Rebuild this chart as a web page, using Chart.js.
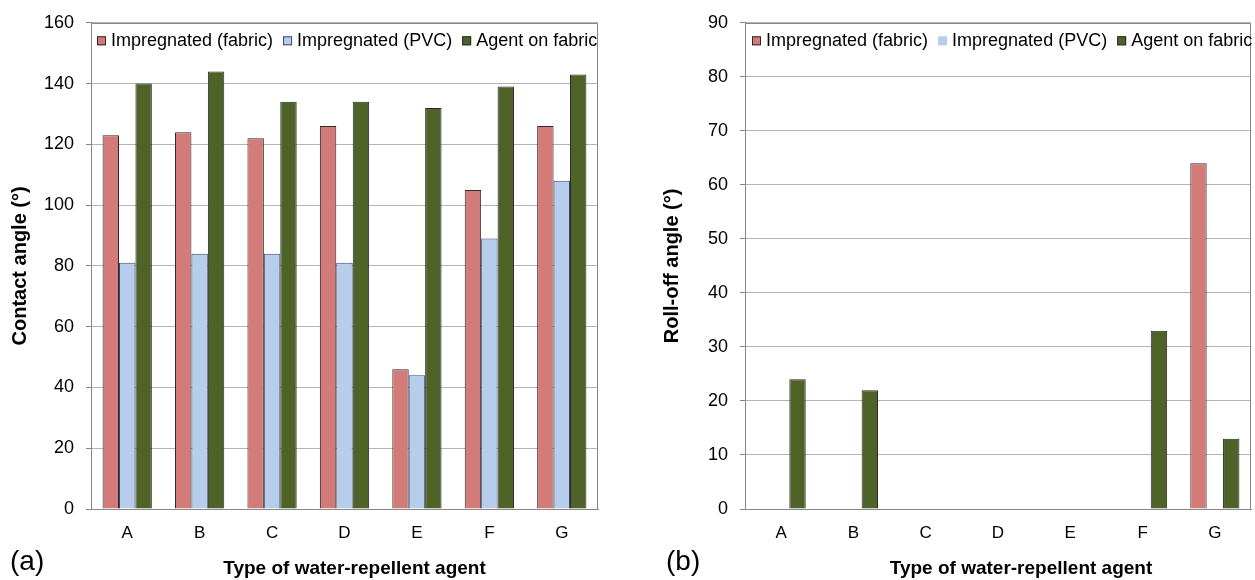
<!DOCTYPE html>
<html><head><meta charset="utf-8">
<script src="https://cdn.jsdelivr.net/npm/chart.js@4.4.1/dist/chart.umd.min.js"></script>
<style>
html,body{margin:0;padding:0;background:#fff;}
#wrap{position:relative;width:1255px;height:580px;overflow:hidden;font-family:"Liberation Sans",Arial,sans-serif;}
canvas{position:absolute;top:0;}
.panel{position:absolute;font-size:28px;line-height:28px;color:#000;white-space:nowrap;}
</style></head><body>
<div id="wrap">
<canvas id="c1" width="627" height="580" style="left:0px"></canvas>
<canvas id="c2" width="628" height="580" style="left:627px"></canvas>
<div class="panel" style="left:10px;top:547px">(a)</div>
<div class="panel" style="left:666px;top:547px">(b)</div>
</div>
<script>
// ---- data ----
const categories = ['A', 'B', 'C', 'D', 'E', 'F', 'G'];
const seriesNames = ['Impregnated (fabric)', 'Impregnated (PVC)', 'Agent on fabric'];
const contactFabric = [123, 124, 122, 126, 46, 105, 126];
const contactPVC = [81, 84, 84, 81, 44, 89, 108];
const contactAgent = [140, 144, 134, 134, 132, 139, 143];
const rollFabric = [0, 0, 0, 0, 0, 0, 64];
const rollPVC = [0, 0, 0, 0, 0, 0, 0];
const rollAgent = [24, 22, 0, 0, 0, 33, 13];
const contactTicks = [0, 20, 40, 60, 80, 100, 120, 140, 160];
const rollTicks = [0, 10, 20, 30, 40, 50, 60, 70, 80, 90];
const xTitle = 'Type of water-repellent agent';
const yTitleContact = 'Contact angle (°)';
const yTitleRoll = 'Roll-off angle (°)';

// ---- styles ----
const FONT = '"Liberation Sans", Arial, sans-serif';
Chart.defaults.font.family = FONT;
Chart.defaults.color = '#000';
const colFabric = '#D37B79';
const colPVC = '#B7CDEC';
const colAgent = '#4F6228';
const edge = '#2a2a2a';
const gridCol = '#b4b4b4';
const axisCol = '#878787';

const insideLegend = {
  id: 'insideLegend',
  afterDatasetsDraw(chart, args, opts) {
    const ctx = chart.ctx, area = chart.chartArea;
    let x = area.left + opts.offsetX;
    const y = area.top + opts.offsetY;
    ctx.save();
    ctx.font = '18px ' + FONT;
    ctx.textBaseline = 'middle';
    ctx.textAlign = 'left';
    chart.data.datasets.forEach((ds) => {
      ctx.fillStyle = ds.backgroundColor;
      ctx.fillRect(x, y - 4.5, 9, 9);
      if (ds.legendEdge) {
        ctx.strokeStyle = ds.legendEdge;
        ctx.lineWidth = 1;
        ctx.strokeRect(x + 0.5, y - 4, 8, 8);
      }
      x += 9 + 5;
      ctx.fillStyle = '#000';
      ctx.fillText(ds.label, x, y);
      x += ctx.measureText(ds.label).width + opts.gap;
    });
    ctx.restore();
  }
};

const frameAndTitle = {
  id: 'frameAndTitle',
  beforeDatasetsDraw(chart) {
    const ctx = chart.ctx, a = chart.chartArea;
    ctx.save();
    ctx.strokeStyle = axisCol;
    ctx.lineWidth = 1;
    ctx.beginPath();
    ctx.moveTo(Math.round(a.left) + 0.5, Math.round(a.top) + 0.5);
    ctx.lineTo(Math.round(a.right) - 0.5, Math.round(a.top) + 0.5);
    ctx.lineTo(Math.round(a.right) - 0.5, Math.round(a.bottom) + 0.5);
    ctx.stroke();
    ctx.restore();
  },
  afterDraw(chart, args, opts) {
    const ctx = chart.ctx, a = chart.chartArea;
    ctx.save();
    ctx.font = 'bold 19px ' + FONT;
    ctx.textAlign = 'center';
    ctx.textBaseline = 'middle';
    ctx.fillStyle = '#000';
    ctx.fillText(opts.text, (a.left + a.right) / 2 + opts.shift, opts.y);
    ctx.restore();
  }
};

function makeChart(id, vals, ticksArr, yTitle, cfg) {
  const datasets = vals.map((v, i) => ({
    label: seriesNames[i],
    data: v,
    backgroundColor: [colFabric, colPVC, colAgent][i],
    borderColor: cfg.edges[i],
    legendEdge: cfg.legendEdges[i],
    borderWidth: 1,
    categoryPercentage: 0.68,
    barPercentage: 1.0
  }));
  return new Chart(document.getElementById(id), {
    type: 'bar',
    data: { labels: categories, datasets },
    plugins: [insideLegend, frameAndTitle],
    options: {
      responsive: false,
      animation: false,
      devicePixelRatio: 1,
      layout: { padding: { left: 0, top: cfg.top, right: cfg.right, bottom: 0 } },
      plugins: {
        legend: { display: false },
        tooltip: { enabled: false },
        insideLegend: { offsetX: cfg.legX, offsetY: 18, gap: 10 },
        frameAndTitle: { text: xTitle, shift: cfg.titleShift, y: 569 }
      },
      scales: {
        x: {
          grid: { display: false, drawTicks: false },
          border: { display: true, color: axisCol, width: 1 },
          ticks: { font: { size: 17 }, color: '#000', padding: 14, maxRotation: 0, autoSkip: false },
          afterFit: (s) => { s.height = 71; }
        },
        y: {
          min: ticksArr[0],
          max: ticksArr[ticksArr.length - 1],
          afterBuildTicks: (s) => { s.ticks = ticksArr.map(v => ({ value: v })); },
          grid: { color: gridCol, tickColor: axisCol, tickLength: 5, drawTicks: true },
          border: { display: true, color: axisCol, width: 1 },
          ticks: { font: { size: 18 }, color: '#000', padding: 12 },
          title: {
            display: true,
            text: yTitle,
            font: { size: 20, weight: 'bold', lineHeight: 1 },
            padding: { top: cfg.yTitlePad, bottom: 0 }
          },
          afterFit: (s) => { s.width = cfg.yWidth; }
        }
      }
    }
  });
}

makeChart('c1', [contactFabric, contactPVC, contactAgent], contactTicks, yTitleContact, {
  top: 15, right: 29, yWidth: 91, yTitlePad: 10, legX: 6, titleShift: 10,
  edges: [edge, '#3a4a66', edge], legendEdges: [edge, '#3a4a66', edge]
});
makeChart('c2', [rollFabric, rollPVC, rollAgent], rollTicks, yTitleRoll, {
  top: 15, right: 4, yWidth: 118, yTitlePad: 35, legX: 7, titleShift: 23,
  edges: [edge, colPVC, edge], legendEdges: [edge, null, edge]
});
</script>
</body></html>
